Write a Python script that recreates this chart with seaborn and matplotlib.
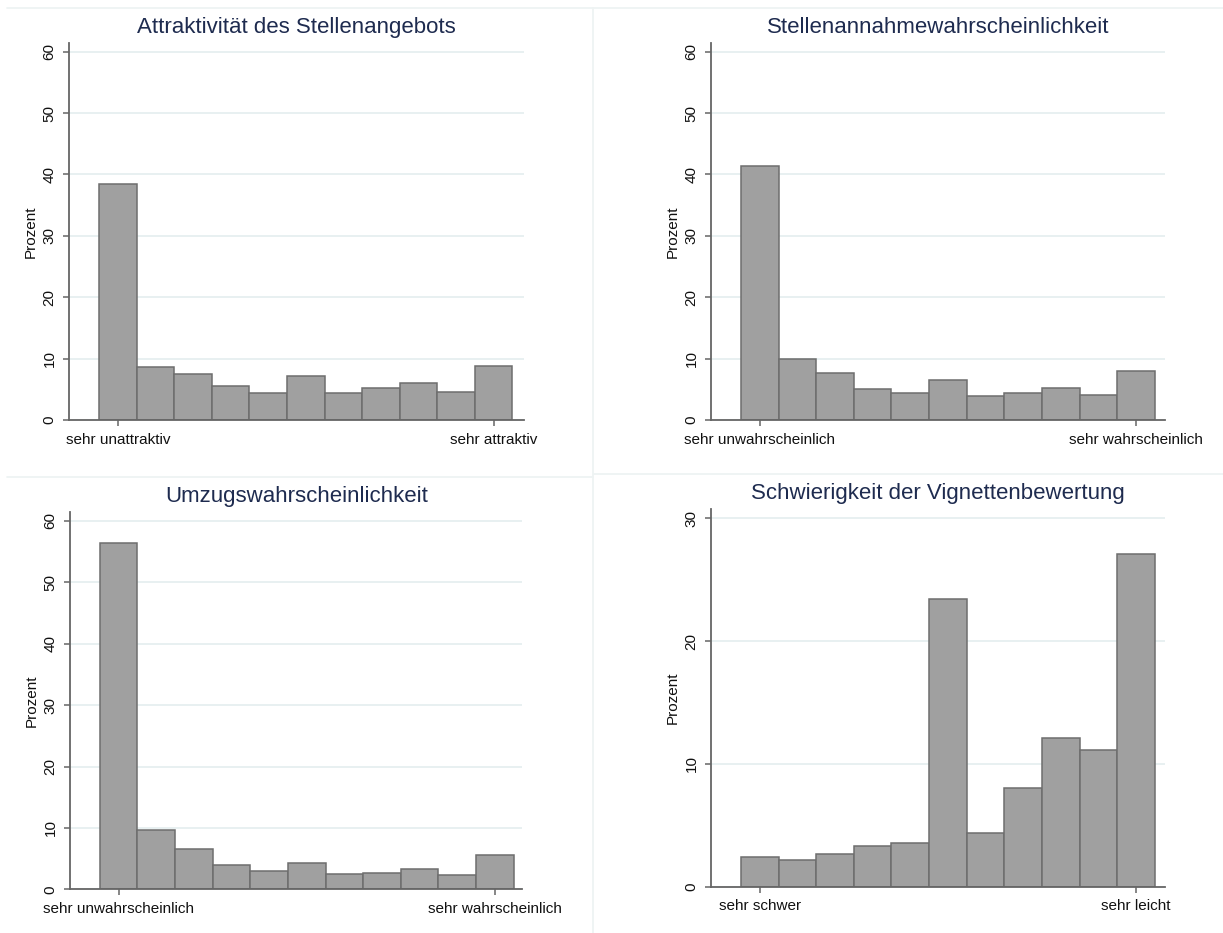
import numpy as np
import pandas as pd
import seaborn as sns
import matplotlib
matplotlib.use("Agg")
import matplotlib.pyplot as plt
from matplotlib.lines import Line2D

sns.set_theme(style="white")
plt.rcParams['font.family'] = ['Liberation Sans', 'DejaVu Sans']

# ---- data ----
categories = list(range(11))

titles = [
    "Attraktivität des Stellenangebots",
    "Stellenannahmewahrscheinlichkeit",
    "Umzugswahrscheinlichkeit",
    "Schwierigkeit der Vignettenbewertung",
]

attraktivitaet = [38.4, 8.6, 7.5, 5.5, 4.35, 7.1, 4.35, 5.2, 6.0, 4.5, 8.75]
stellenannahme = [41.4, 9.95, 7.65, 5.1, 4.4, 6.45, 3.85, 4.4, 5.2, 4.1, 8.0]
umzug = [56.4, 9.7, 6.6, 3.95, 3.0, 4.25, 2.45, 2.6, 3.35, 2.35, 5.6]
schwierigkeit = [2.4, 2.2, 2.65, 3.3, 3.55, 23.4, 4.37, 8.04, 12.1, 11.1, 27.1]

left_labels = ["sehr unattraktiv", "sehr unwahrscheinlich", "sehr unwahrscheinlich", "sehr schwer"]
right_labels = ["sehr attraktiv", "sehr wahrscheinlich", "sehr wahrscheinlich", "sehr leicht"]

y_ticks = [[0, 10, 20, 30, 40, 50, 60]] * 3 + [[0, 10, 20, 30]]
y_tops = [61.47, 61.47, 61.5, 30.76]
series = [attraktivitaet, stellenannahme, umzug, schwierigkeit]

# ---- layout (pixel positions) ----
W, H = 1223, 933
fig = plt.figure(figsize=(W / 100, H / 100), dpi=100)
fig.patch.set_facecolor("white")

# (left px, right px, top px, bottom px)
boxes = [
    (69, 523.5, 42.7, 420),
    (711, 1165, 42.7, 420),
    (70, 522.4, 511.7, 889.3),
    (711, 1165, 509, 886.7),
]

sep_color = "#eef3f3"
for (x0, y0, x1, y1) in [(7, 8, 1223, 8), (593, 8, 593, 933), (7, 477, 593, 477), (594, 474, 1223, 474)]:
    fig.add_artist(Line2D([x0 / W, x1 / W], [1 - y0 / H, 1 - y1 / H], color=sep_color, lw=1.3,
                          transform=fig.transFigure))

bar_fill = "#a0a0a0"
bar_edge = "#6e6e6e"
axis_col = "#666666"
title_col = "#1e2b4f"
grid_col = "#e6eff0"

for i, (l, r, t, b) in enumerate(boxes):
    ax = fig.add_axes([l / W, 1 - b / H, (r - l) / W, (b - t) / H])
    df = pd.DataFrame({"x": categories, "p": series[i]})
    sns.histplot(data=df, x="x", weights="p", discrete=True, shrink=1.0,
                 color=bar_fill, edgecolor=bar_edge, linewidth=1.1, alpha=1.0, ax=ax)
    # x range: ticks at 0 and 10
    xpx = (r - l)
    if i in (0, 2):
        t0, t10 = (117.9, 493.7) if i == 0 else (118.6, 494.8)
    else:
        t0, t10 = 759.7, 1136.2
    ppu = (t10 - t0) / 10
    ax.set_xlim(-(t0 - l) / ppu, 10 + (r - t10) / ppu)
    ax.set_ylim(0, y_tops[i])
    ax.set_yticks(y_ticks[i])
    ax.set_yticklabels([str(v) for v in y_ticks[i]], rotation=90, va="center")
    ax.set_xticks([0, 10])
    ax.set_xticklabels([left_labels[i], right_labels[i]])
    ax.set_xlabel("")
    ax.set_ylabel("Prozent", fontsize=11, color="#111111")
    ax.yaxis.set_label_coords(-31 / xpx, 0.5)
    ax.set_title(titles[i], fontsize=16, color=title_col, pad=7)

    ax.grid(False)
    ax.yaxis.grid(True, color=grid_col, linewidth=1.3)
    ax.set_axisbelow(True)
    for s in ["top", "right"]:
        ax.spines[s].set_visible(False)
    for s in ["left", "bottom"]:
        ax.spines[s].set_color(axis_col)
        ax.spines[s].set_linewidth(1.3)
    ax.tick_params(axis="both", which="major", direction="out", length=4, width=1.1,
                   color=axis_col, labelsize=11, labelcolor="#111111", pad=5,
                   bottom=True, left=True)
    ax.set_facecolor("white")

fig.savefig("out.png", dpi=100, facecolor="white")
